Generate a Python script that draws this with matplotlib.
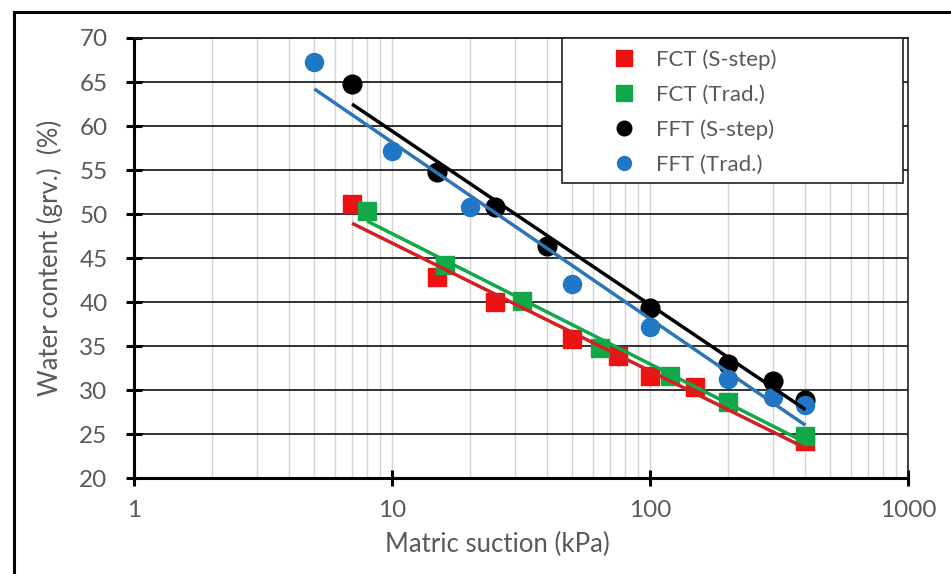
#!/usr/bin/env python3
"""
Water content vs matric suction, with log trend lines per series.
"""

import matplotlib
matplotlib.use("Agg")
import matplotlib.pyplot as plt
import numpy as np
from matplotlib.lines import Line2D
from matplotlib.patches import Rectangle
from matplotlib.ticker import FixedLocator, LogLocator, NullFormatter


# FCT (S-step)
fct_s_x = [7, 15, 25, 50, 75, 100, 150, 400]
fct_s_y = [51.1, 42.8, 40.0, 35.8, 33.9, 31.6, 30.3, 24.2]

# FCT (Trad.)
fct_t_x = [8, 16, 32, 64, 120, 200, 400]
fct_t_y = [50.3, 44.2, 40.1, 34.8, 31.6, 28.6, 24.8]

# FFT (S-step)
fft_s_x = [7, 15, 25, 40, 100, 200, 300, 400]
fft_s_y = [64.8, 54.8, 50.8, 46.4, 39.3, 33.0, 31.0, 28.9]

# FFT (Trad.)
fft_t_x = [5, 10, 20, 50, 100, 200, 300, 400]
fft_t_y = [67.3, 57.2, 50.8, 42.0, 37.2, 31.3, 29.2, 28.3]

labels = ["FCT (S-step)", "FCT (Trad.)", "FFT (S-step)", "FFT (Trad.)"]

TXT = "#595959"
FONT = "Lato"


def log_fit(x, y):
    lx = np.log10(np.asarray(x, dtype=float))
    slope, icpt = np.polyfit(lx, np.asarray(y, dtype=float), 1)
    xs = np.array([min(x), max(x)], dtype=float)
    return xs, slope * np.log10(xs) + icpt


def main():
    plt.rcParams["font.family"] = [FONT, "DejaVu Sans"]

    fig = plt.figure(figsize=(9.51, 5.74), dpi=100)
    ax = fig.add_axes([0.1409, 0.1672, 0.8139, 0.7666])

    series = [
        (fct_s_x, fct_s_y, "s", "#ee1111", "#d42020", 13.5),
        (fct_t_x, fct_t_y, "s", "#10a848", "#10a848", 13.5),
        (fft_s_x, fft_s_y, "o", "#000000", "#000000", 13.5),
        (fft_t_x, fft_t_y, "o", "#1f77c8", "#2e75b6", 13),
    ]

    for x, y, mk, col, lcol, ms in series:
        ax.plot(x, y, linestyle="none", marker=mk, markersize=ms,
                markerfacecolor=col, markeredgecolor=col, zorder=3)
    for x, y, mk, col, lcol, ms in series:
        xs, ys = log_fit(x, y)
        ax.plot(xs, ys, color=lcol, linewidth=2.5, zorder=4, solid_capstyle="butt")

    ax.set_xscale("log")
    ax.set_xlim(1, 1000)
    ax.set_ylim(20, 70)
    ax.set_yticks(np.arange(20, 71, 5))
    ax.xaxis.set_major_locator(FixedLocator([1, 10, 100, 1000]))
    ax.set_xticklabels(["1", "10", "100", "1000"])
    ax.xaxis.set_minor_locator(LogLocator(base=10, subs=np.arange(2, 10)))
    ax.xaxis.set_minor_formatter(NullFormatter())

    ax.grid(axis="y", which="major", color="#202020", linewidth=1.3, zorder=1)
    ax.grid(axis="x", which="both", color="#d4d4d4", linewidth=1.0, zorder=1)
    ax.set_axisbelow(True)

    for side in ["left", "bottom"]:
        ax.spines[side].set_linewidth(2.2)
        ax.spines[side].set_color("black")
    ax.spines["right"].set_linewidth(1.2)
    ax.spines["right"].set_color("#202020")
    ax.spines["top"].set_linewidth(1.3)
    ax.spines["top"].set_color("#202020")

    ax.tick_params(axis="both", which="major", direction="inout", length=12,
                   width=2.2, colors="black", labelcolor=TXT, labelsize=17.5)
    ax.tick_params(axis="y", pad=13)
    ax.tick_params(axis="x", pad=10)
    ax.tick_params(axis="x", which="minor", length=0)

    ax.set_xlabel("Matric suction (kPa)", color=TXT, fontsize=18.5)
    ax.xaxis.set_label_coords(0.469, -0.152, transform=ax.transAxes)
    ax.xaxis.label.set_verticalalignment("center")
    ax.set_ylabel("Water content (grv.)  (%)", color=TXT, fontsize=18.5, labelpad=12)

    # legend box drawn separately so its content can sit indented like the original
    ax.add_patch(Rectangle((0.553, 0.6705), 0.4406, 0.3295, transform=ax.transAxes,
                           facecolor="white", edgecolor="#202020", linewidth=1.2,
                           zorder=5, clip_on=False))
    handles = [
        Line2D([], [], linestyle="none", marker="s", markersize=11, color="#ee1111"),
        Line2D([], [], linestyle="none", marker="s", markersize=11, color="#10a848"),
        Line2D([], [], linestyle="none", marker="o", markersize=10.5, color="#000000"),
        Line2D([], [], linestyle="none", marker="o", markersize=10, color="#1f77c8"),
    ]
    leg = ax.legend(handles, labels, loc="upper left",
                    bbox_to_anchor=(0.604, 0.974),
                    fontsize=16, frameon=False, borderpad=0.0,
                    handletextpad=0.45, borderaxespad=0.0, labelspacing=0.66,
                    handlelength=2.0, labelcolor=TXT)
    leg.set_zorder(6)

    # outer chart frame (left and top edges)
    fig.add_artist(Line2D([14 / 951, 14 / 951], [0, 1 - 12 / 574],
                          transform=fig.transFigure, color="black", linewidth=2.2))
    fig.add_artist(Line2D([14 / 951, 1], [1 - 12 / 574, 1 - 12 / 574],
                          transform=fig.transFigure, color="black", linewidth=2.2))

    fig.savefig("out.png", dpi=100, facecolor="white")
    plt.close(fig)


if __name__ == "__main__":
    main()
